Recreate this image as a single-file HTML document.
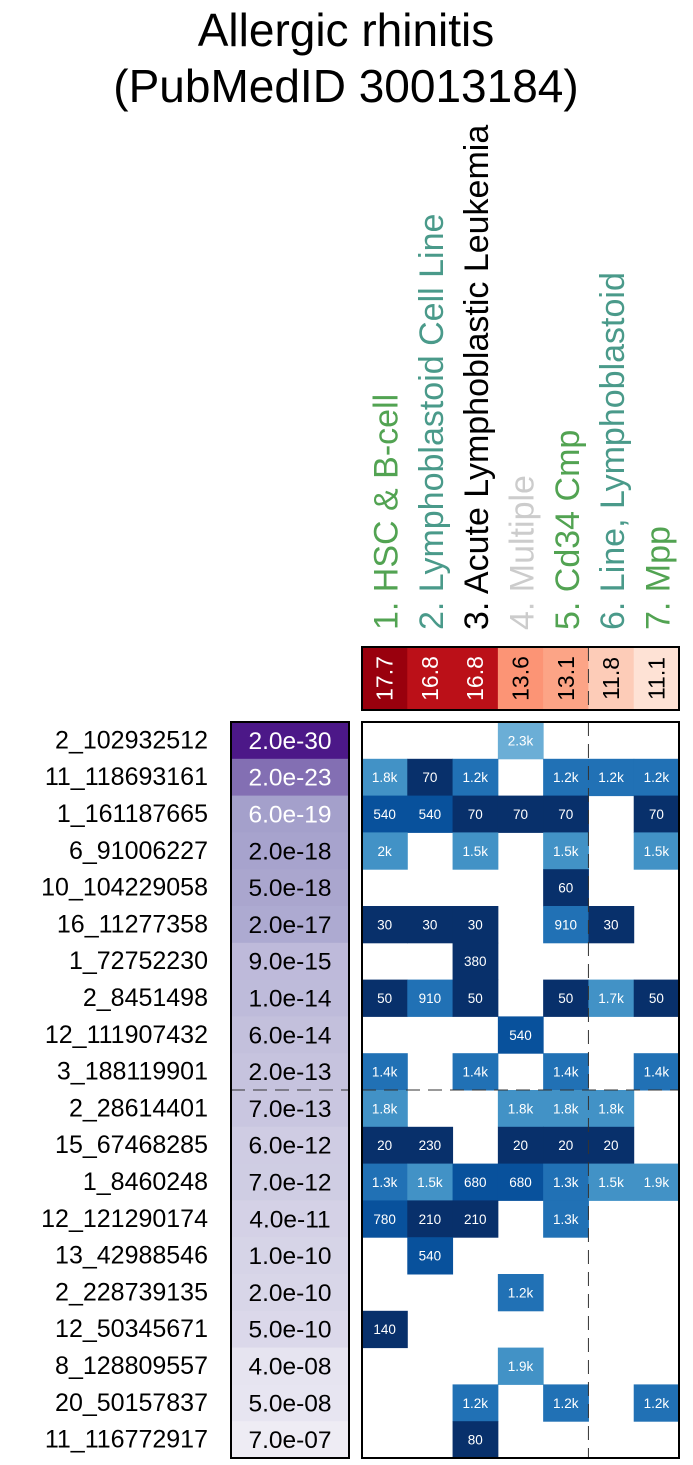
<!DOCTYPE html>
<html><head><meta charset="utf-8"><style>
body{margin:0;background:#fff;}
svg{display:block;font-family:"Liberation Sans",sans-serif;}
</style></head><body>
<svg id="chart" width="693" height="1465" viewBox="0 0 693 1465">
<text x="346" y="46" font-size="46" text-anchor="middle">Allergic rhinitis</text>
<text x="346" y="102" font-size="46" text-anchor="middle">(PubMedID 30013184)</text>
<g id="heads"></g>
<g id="scores"></g>
<g id="pv"></g>
<g id="cells"></g>
</svg>
<script>
const columns=["1. HSC & B-cell","2. Lymphoblastoid Cell Line","3. Acute Lymphoblastic Leukemia","4. Multiple","5. Cd34 Cmp","6. Line, Lymphoblastoid","7. Mpp"];
const columnColors=["#52a352","#4a9a8a","#000000","#cccccc","#52a352","#4a9a8a","#52a352"];
const scores=[17.7,16.8,16.8,13.6,13.1,11.8,11.1];
const snps=["2_102932512","11_118693161","1_161187665","6_91006227","10_104229058","16_11277358","1_72752230","2_8451498","12_111907432","3_188119901","2_28614401","15_67468285","1_8460248","12_121290174","13_42988546","2_228739135","12_50345671","8_128809557","20_50157837","11_116772917"];
const pvalues=["2.0e-30","2.0e-23","6.0e-19","2.0e-18","5.0e-18","2.0e-17","9.0e-15","1.0e-14","6.0e-14","2.0e-13","7.0e-13","6.0e-12","7.0e-12","4.0e-11","1.0e-10","2.0e-10","5.0e-10","4.0e-08","5.0e-08","7.0e-07"];
const N=null;
const values=[
[N,N,N,2300,N,N,N],
[1800,70,1200,N,1200,1200,1200],
[540,540,70,70,70,N,70],
[2000,N,1500,N,1500,N,1500],
[N,N,N,N,60,N,N],
[30,30,30,N,910,30,N],
[N,N,380,N,N,N,N],
[50,910,50,N,50,1700,50],
[N,N,N,540,N,N,N],
[1400,N,1400,N,1400,N,1400],
[1800,N,N,1800,1800,1800,N],
[20,230,N,20,20,20,N],
[1300,1500,680,680,1300,1500,1900],
[780,210,210,N,1300,N,N],
[N,540,N,N,N,N,N],
[N,N,N,1200,N,N,N],
[140,N,N,N,N,N,N],
[N,N,N,1900,N,N,N],
[N,N,1200,N,1200,N,1200],
[N,N,80,N,N,N,N]];

const NS="http://www.w3.org/2000/svg";
function mk(tag,attrs,parent,txt){const e=document.createElementNS(NS,tag);for(const k in attrs)e.setAttribute(k,attrs[k]);if(txt!==undefined)e.textContent=txt;parent.appendChild(e);return e;}
const X0=362,X1=679,cw=(X1-X0)/columns.length;
const Y0=722,Y1=1458,rh=(Y1-Y0)/snps.length;
const colX=i=>X0+i*cw, rowY=j=>Y0+j*rh;
function blue(v){if(v<=400)return"#08306b";if(v<=800)return"#08519c";if(v<=1450)return"#2171b5";if(v<=2100)return"#4292c6";return"#6baed6";}
function red(s){const t=(s-11)/(17.7-11);const stops=[[254,229,217],[252,187,161],[252,146,114],[251,106,74],[203,24,29],[153,0,13]];const p=Math.max(0,Math.min(1,t))*(stops.length-1);const i=Math.min(Math.floor(p),stops.length-2),f=p-i;const c=stops[i].map((a,k)=>Math.round(a+(stops[i+1][k]-a)*f));return`rgb(${c})`;}
function purple(p){const e=-Math.log10(parseFloat(p));const t=Math.max(0,Math.min(1,(e-6)/(30-6)));const a=[239,237,245],m=[158,154,200],b=[74,20,134];let c;if(t<0.55){const f=t/0.55;c=a.map((x,k)=>Math.round(x+(m[k]-x)*f));}else{const f=(t-0.55)/0.45;c=m.map((x,k)=>Math.round(x+(b[k]-x)*f));}return`rgb(${c})`;}
function fmt(v){return v>=1000?(v%1000===0?(v/1000)+"k":(v/1000).toFixed(1)+"k"):String(v);}

const heads=document.getElementById('heads');
columns.forEach((c,i)=>{const x=colX(i)+cw/2+13;
const t=mk('text',{x:x,y:630,'font-size':34,fill:columnColors[i],transform:`rotate(-90 ${x} 630)`},heads,c);

});

const sc=document.getElementById('scores');
scores.forEach((s,i)=>{const r=mk('rect',{x:colX(i),y:647,width:cw+0.5,height:63,fill:red(s)},sc);


const x=colX(i)+cw/2+8;const t=mk('text',{x:x,y:678.5,'font-size':23,'text-anchor':'middle',fill:s>15?'#fff':'#000',transform:`rotate(-90 ${x} 678.5)`},sc,s.toFixed(1));

});
mk('line',{x1:colX(5),x2:colX(5),y1:647,y2:710,stroke:'#333','stroke-dasharray':'14 8'},sc);
mk('rect',{x:X0,y:647,width:X1-X0,height:63,fill:'none',stroke:'#000','stroke-width':2},sc);

const pv=document.getElementById('pv');
snps.forEach((s,j)=>{const y=rowY(j);
const l=mk('text',{x:208,y:y+rh/2+8,'font-size':25,'text-anchor':'end'},pv,s);


const r=mk('rect',{x:231,y:y,width:118,height:rh+0.5,fill:purple(pvalues[j])},pv);


const t=mk('text',{x:290,y:y+rh/2+8.5,'font-size':24.5,'text-anchor':'middle',fill:j<3?'#fff':'#000'},pv,pvalues[j]);

});
mk('line',{x1:231,x2:349,y1:rowY(10),y2:rowY(10),stroke:'#333','stroke-dasharray':'14 8'},pv);
mk('rect',{x:231,y:Y0,width:118,height:Y1-Y0,fill:'none',stroke:'#000','stroke-width':2},pv);

const cells=document.getElementById('cells');
values.forEach((row,j)=>row.forEach((v,i)=>{if(v===null)return;
const r=mk('rect',{x:colX(i),y:rowY(j),width:cw+0.5,height:rh+0.5,fill:blue(v)},cells);


const t=mk('text',{x:colX(i)+cw/2,y:rowY(j)+rh/2+5,'font-size':13.5,'text-anchor':'middle',fill:'#fff'},cells,fmt(v));

}));
mk('line',{x1:colX(5),x2:colX(5),y1:Y0,y2:Y1,stroke:'#333','stroke-dasharray':'14 8'},cells);
mk('line',{x1:X0,x2:X1,y1:rowY(10),y2:rowY(10),stroke:'#333','stroke-dasharray':'14 8'},cells);
mk('rect',{x:X0,y:Y0,width:X1-X0,height:Y1-Y0,fill:'none',stroke:'#000','stroke-width':2},cells);
</script>
</body></html>
